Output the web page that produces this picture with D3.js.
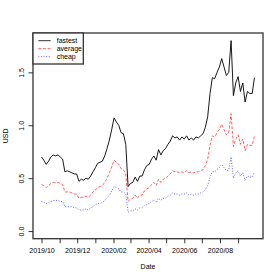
<!DOCTYPE html>
<html>
<head>
<meta charset="utf-8">
<script src="https://d3js.org/d3.v7.min.js"></script>
<style>
  body { margin: 0; background: #fff; }
  svg { display: block; font-family: "Liberation Sans", Arial, sans-serif; }
</style>
</head>
<body>
<svg id="chart" width="280" height="280"></svg>
<script>
const dates = [
  "2019-10-01","2019-10-05","2019-10-09","2019-10-13","2019-10-17","2019-10-21","2019-10-25","2019-10-29",
  "2019-11-02","2019-11-06","2019-11-10","2019-11-14","2019-11-18","2019-11-22","2019-11-26","2019-11-30",
  "2019-12-04","2019-12-08","2019-12-12","2019-12-16","2019-12-20","2019-12-24","2019-12-28",
  "2020-01-01","2020-01-05","2020-01-09","2020-01-13","2020-01-17","2020-01-21","2020-01-25","2020-01-29",
  "2020-02-02","2020-02-06","2020-02-10","2020-02-14","2020-02-18","2020-02-22","2020-02-26",
  "2020-03-01","2020-03-05","2020-03-09","2020-03-13","2020-03-17","2020-03-21","2020-03-25","2020-03-29",
  "2020-04-02","2020-04-06","2020-04-10","2020-04-14","2020-04-18","2020-04-22","2020-04-26","2020-04-30",
  "2020-05-04","2020-05-08","2020-05-12","2020-05-16","2020-05-20","2020-05-24","2020-05-28",
  "2020-06-01","2020-06-05","2020-06-09","2020-06-13","2020-06-17","2020-06-21","2020-06-25","2020-06-29",
  "2020-07-03","2020-07-07","2020-07-11","2020-07-15","2020-07-19","2020-07-23","2020-07-27","2020-07-31",
  "2020-08-04","2020-08-08","2020-08-12","2020-08-16","2020-08-20","2020-08-24","2020-08-28",
  "2020-09-01","2020-09-05","2020-09-09","2020-09-13","2020-09-17","2020-09-21","2020-09-25","2020-09-29"
];

const fastest = [
  0.70,0.67,0.63,0.66,0.70,0.72,0.71,0.72,
  0.70,0.68,0.56,0.57,0.56,0.55,0.54,0.54,
  0.47,0.49,0.48,0.50,0.49,0.52,0.56,
  0.60,0.64,0.65,0.66,0.71,0.78,0.86,0.96,
  1.07,1.03,1.00,0.93,0.92,0.82,0.42,
  0.45,0.46,0.51,0.47,0.52,0.52,0.58,0.62,
  0.63,0.68,0.71,0.67,0.77,0.72,0.76,0.78,
  0.82,0.85,0.90,0.88,0.89,0.86,0.89,
  0.87,0.90,0.86,0.88,0.86,0.89,0.88,0.90,
  0.92,0.98,1.08,1.30,1.45,1.44,1.50,1.55,
  1.63,1.55,1.47,1.50,1.80,1.28,1.40,
  1.46,1.32,1.40,1.22,1.32,1.30,1.30,1.45
];

const average = [
  0.44,0.43,0.41,0.43,0.45,0.46,0.46,0.46,
  0.45,0.44,0.37,0.37,0.37,0.36,0.35,0.35,
  0.31,0.32,0.32,0.33,0.32,0.34,0.37,
  0.39,0.41,0.42,0.43,0.46,0.50,0.55,0.61,
  0.67,0.65,0.63,0.59,0.58,0.54,0.28,
  0.30,0.31,0.34,0.31,0.34,0.34,0.38,0.40,
  0.41,0.44,0.46,0.43,0.49,0.46,0.49,0.50,
  0.52,0.54,0.57,0.56,0.56,0.55,0.56,
  0.55,0.57,0.55,0.56,0.55,0.56,0.56,0.57,
  0.58,0.62,0.68,0.81,0.90,0.89,0.93,0.96,
  1.01,0.96,0.91,0.93,1.11,0.80,0.87,
  0.91,0.82,0.87,0.76,0.82,0.81,0.81,0.90
];

const cheap = [
  0.28,0.27,0.26,0.27,0.28,0.29,0.29,0.29,
  0.28,0.28,0.23,0.23,0.23,0.23,0.22,0.22,
  0.20,0.20,0.20,0.21,0.20,0.22,0.23,
  0.25,0.26,0.26,0.27,0.29,0.31,0.34,0.38,
  0.42,0.41,0.40,0.37,0.37,0.35,0.18,
  0.19,0.19,0.21,0.20,0.22,0.22,0.24,0.25,
  0.26,0.28,0.29,0.27,0.31,0.29,0.31,0.31,
  0.33,0.34,0.36,0.35,0.35,0.34,0.35,
  0.35,0.36,0.34,0.35,0.34,0.35,0.35,0.36,
  0.37,0.39,0.43,0.51,0.56,0.56,0.58,0.60,
  0.63,0.60,0.57,0.58,0.70,0.50,0.55,
  0.57,0.52,0.55,0.48,0.52,0.51,0.51,0.56
];

const seriesNames = ["fastest", "average", "cheap"];
const seriesColors = ["#000000", "#ff0000", "#0000ff"];
const seriesDash = [null, "3,1.6", "1,1.6"];
const yTicks = [0, 0.5, 1.0, 1.5];

const parse = d3.timeParse("%Y-%m-%d");
const xs = dates.map(parse);
const values = [fastest, average, cheap];

// plot box like R's default par
const box = { left: 33, right: 263, top: 33, bottom: 238.7 };

const xExt = d3.extent(xs);
const xPad = (xExt[1] - xExt[0]) * 0.04;
const x = d3.scaleTime()
  .domain([new Date(+xExt[0] - xPad), new Date(+xExt[1] + xPad)])
  .range([box.left, box.right]);

const yMax = d3.max(fastest);
const y = d3.scaleLinear()
  .domain([0 - yMax * 0.04, yMax * 1.04])
  .range([box.bottom, box.top]);

const svg = d3.select("#chart");

const line = d3.line()
  .x((d, i) => x(xs[i]))
  .y(d => y(d));

values.forEach((vals, k) => {
  svg.append("path")
    .datum(vals)
    .attr("fill", "none")
    .attr("stroke", seriesColors[k])
    .attr("stroke-width", k === 0 ? 0.9 : 0.75)
    .attr("stroke-opacity", k === 0 ? 1 : 0.8)
    .attr("stroke-dasharray", seriesDash[k])
    .attr("d", line);
});

svg.append("rect")
  .attr("x", box.left).attr("y", box.top)
  .attr("width", box.right - box.left).attr("height", box.bottom - box.top)
  .attr("fill", "none").attr("stroke", "#333").attr("stroke-width", 1.3);

// y axis, labels parallel to axis
const yAxis = svg.append("g").attr("transform", `translate(${box.left},0)`)
  .call(d3.axisLeft(y).tickValues(yTicks).tickSize(4.5).tickFormat(d3.format(".1f")));
yAxis.select(".domain").remove();
yAxis.selectAll("line").attr("stroke", "#333");
yAxis.selectAll("text")
  .attr("x", null).attr("dy", null)
  .attr("transform", "translate(-9.5,0) rotate(-90)")
  .attr("text-anchor", "middle")
  .style("font-size", "7px").style("font-family", "'Liberation Sans', Arial, sans-serif")
  .attr("fill", "#000");

// x axis: monthly ticks, label every other month
const months = d3.timeMonth.range(d3.timeMonth.ceil(xExt[0]), xExt[1]);
const xAxis = svg.append("g").attr("transform", `translate(0,${box.bottom})`)
  .call(d3.axisBottom(x).tickValues(months).tickSize(4.5)
    .tickFormat((d, i) => i % 2 === 0 ? d3.timeFormat("%Y/%m")(d) : ""));
xAxis.select(".domain").remove();
xAxis.selectAll("line").attr("stroke", "#333");
xAxis.selectAll("text")
  .attr("y", 14.5).attr("dy", 0)
  .style("font-size", "7px").style("font-family", "'Liberation Sans', Arial, sans-serif")
  .attr("fill", "#000");

svg.append("text")
  .attr("x", (box.left + box.right) / 2).attr("y", 269)
  .attr("text-anchor", "middle").style("font-size", "7px")
  .text("Date");
svg.append("text")
  .attr("transform", `translate(8,${(box.top + box.bottom) / 2}) rotate(-90)`)
  .attr("text-anchor", "middle").style("font-size", "7px")
  .text("USD");

// legend
const legend = svg.append("g");
legend.append("rect")
  .attr("x", box.left).attr("y", box.top)
  .attr("width", 50.3).attr("height", 31)
  .attr("fill", "#fff").attr("stroke", "#333").attr("stroke-width", 1.3);
seriesNames.forEach((name, k) => {
  const ly = 40.7 + k * 8;
  legend.append("line")
    .attr("x1", 38.3).attr("x2", 50.7).attr("y1", ly).attr("y2", ly)
    .attr("stroke", seriesColors[k]).attr("stroke-width", 0.8)
    .attr("stroke-opacity", k === 0 ? 1 : 0.8)
    .attr("stroke-dasharray", seriesDash[k]);
  legend.append("text")
    .attr("x", 56.7).attr("y", ly + 2.5)
    .style("font-size", "7px")
    .text(name);
});
</script>
</body>
</html>
